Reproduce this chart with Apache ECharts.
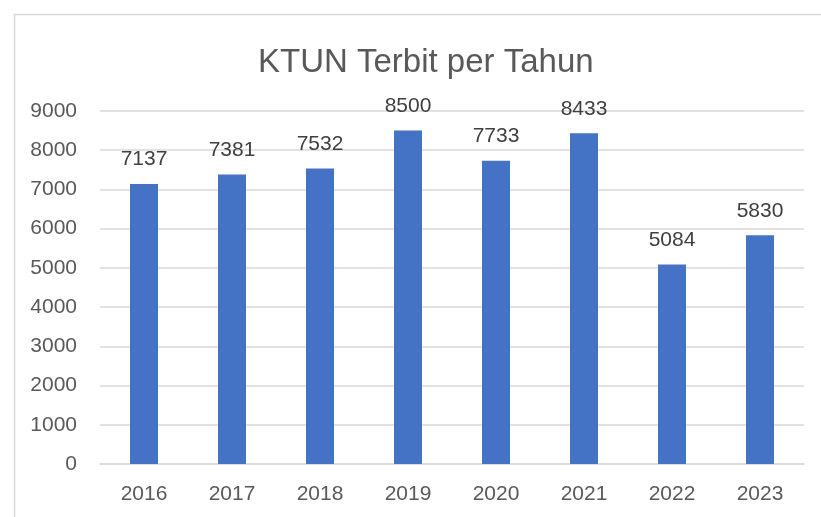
<!DOCTYPE html>
<html>
<head>
<meta charset="utf-8">
<script src="https://cdn.jsdelivr.net/npm/echarts@6/dist/echarts.min.js"></script>
<style>html,body{margin:0;padding:0;background:#fff;}#c{width:821px;height:517px;}</style>
</head>
<body>
<div id="c"></div>
<script>
var categories = ['2016','2017','2018','2019','2020','2021','2022','2023'];
var values = [7137, 7381, 7532, 8500, 7733, 8433, 5084, 5830];
var titleText = 'KTUN Terbit per Tahun';
var yMin = 0, yMax = 9000, yStep = 1000;

var chart = echarts.init(document.getElementById('c'), null, {renderer:'canvas'});
var font = '"Liberation Sans", Arial, sans-serif';
chart.setOption({
  animation: false,
  backgroundColor: '#ffffff',
  graphic: [{
    type: 'rect', left: 12, top: 12,
    shape: {width: 830, height: 530},
    style: {fill: 'none', stroke: '#D9D9D9', lineWidth: 1.5}
  }],
  title: {
    text: titleText, left: 253, top: 41,
    textStyle: {fontFamily: font, fontSize: 33, fontWeight: 'normal', color: '#595959'}
  },
  grid: {left: 100, right: 17, top: 111, bottom: 53, containLabel: false},
  xAxis: {
    type: 'category', data: categories,
    axisLine: {show: true, lineStyle: {color: '#D9D9D9', width: 1.5}},
    axisTick: {show: false},
    axisLabel: {fontFamily: font, fontSize: 21, color: '#595959', margin: 20}
  },
  yAxis: {
    type: 'value', min: yMin, max: yMax, interval: yStep,
    axisLine: {show: false}, axisTick: {show: false},
    splitLine: {lineStyle: {color: '#D9D9D9', width: 1.5}},
    axisLabel: {fontFamily: font, fontSize: 21, color: '#595959', margin: 23,
      formatter: function (v) { return String(v); }}
  },
  series: [{
    type: 'bar', data: values, barWidth: 28,
    itemStyle: {color: '#4472C4'},
    label: {show: true, position: 'top', distance: 14, fontFamily: font, fontSize: 21, color: '#404040'}
  }]
});
</script>
</body>
</html>
